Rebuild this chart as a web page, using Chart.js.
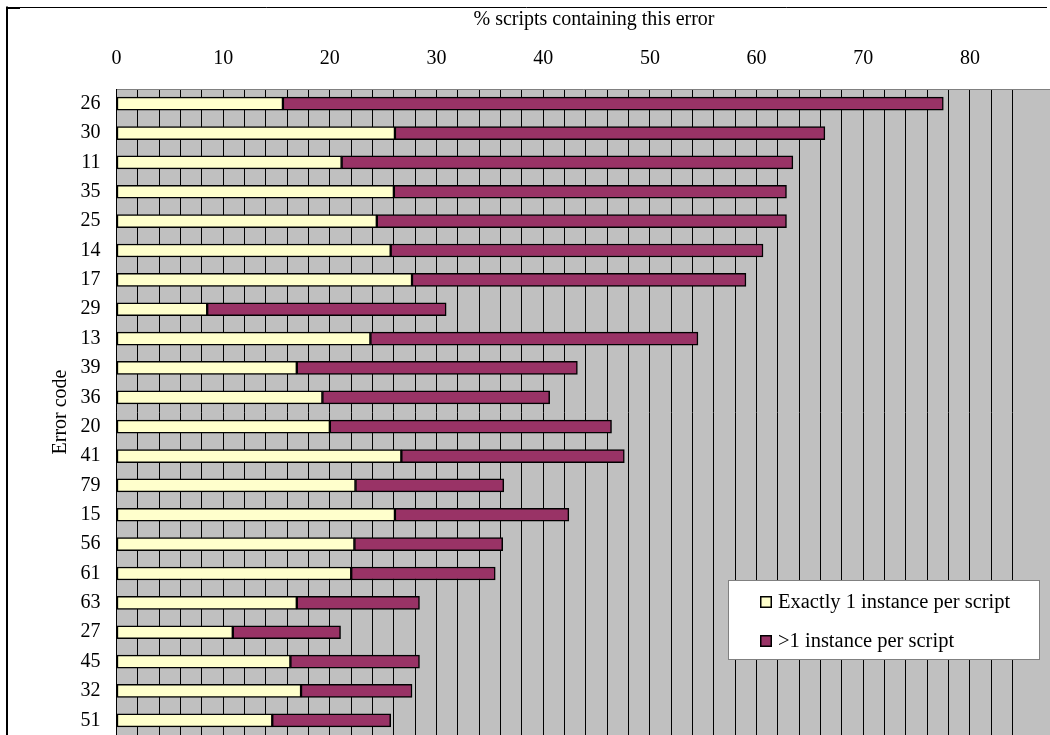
<!DOCTYPE html>
<html>
<head>
<meta charset="utf-8">
<script src="https://cdn.jsdelivr.net/npm/chart.js@4.4.1/dist/chart.umd.min.js"></script>
<style>
  html, body { margin: 0; padding: 0; background: #fff; }
  canvas { display: block; }
</style>
</head>
<body>
<canvas id="chart" width="1050" height="735"></canvas>
<script>
// Error codes, most frequent first (top to bottom)
const errorCodes = ['26','30','11','35','25','14','17','29','13','39','36','20','41','79','15','56','61','63','27','45','32','51'];

// % of scripts with exactly one instance of the error
const exactlyOne = [15.6, 26.1, 21.1, 26.0, 24.4, 25.7, 27.7, 8.5, 23.8, 16.9, 19.3, 20.0, 26.7, 22.4, 26.1, 22.3, 22.0, 16.9, 10.9, 16.3, 17.3, 14.6];

// % of scripts with more than one instance of the error
const moreThanOne = [61.9, 40.3, 42.3, 36.8, 38.4, 34.9, 31.3, 22.4, 30.7, 26.3, 21.3, 26.4, 20.9, 13.9, 16.3, 13.9, 13.5, 11.5, 10.1, 12.1, 10.4, 11.1];

// Labelled values on the percentage axis
const percentTickLabels = [0, 10, 20, 30, 40, 50, 60, 70, 80];

const seriesNames = ['Exactly 1 instance per script', '>1 instance per script'];
const seriesColors = ['#ffffcc', '#993366'];

const SERIF = '"Liberation Serif", "Times New Roman", Times, serif';
const FONT_SIZE = 20;
const PLOT_LEFT = 116.5;
const PLOT_TOP = 89;

// Page background, grey plot area, outer frame, axis title and legend
const decorations = {
  id: 'decorations',
  beforeDraw(chart) {
    const { ctx, chartArea: a } = chart;
    ctx.save();
    ctx.fillStyle = '#ffffff';
    ctx.fillRect(0, 0, chart.width, chart.height);
    ctx.fillStyle = '#c0c0c0';
    ctx.fillRect(a.left, a.top, a.right - a.left, a.bottom - a.top);

    ctx.strokeStyle = '#000';
    ctx.lineWidth = 1;
    ctx.beginPath();
    ctx.moveTo(6, 7.5);
    ctx.lineTo(1047, 7.5);
    ctx.stroke();
    ctx.lineWidth = 2;
    ctx.beginPath();
    ctx.moveTo(7, 6.5);
    ctx.lineTo(7, chart.height);
    ctx.moveTo(6, 8);
    ctx.lineTo(20, 8);
    ctx.stroke();
    ctx.restore();
  },
  afterDraw(chart) {
    const { ctx } = chart;
    ctx.save();
    // axis title above the percentage scale
    ctx.fillStyle = '#000';
    ctx.font = FONT_SIZE + 'px ' + SERIF;
    ctx.textAlign = 'center';
    ctx.textBaseline = 'middle';
    ctx.fillText('% scripts containing this error', 594, 20);

    // legend box
    const bx = 728, by = 580, bw = 312, bh = 80;
    ctx.fillStyle = '#ffffff';
    ctx.fillRect(bx, by, bw, bh);
    ctx.strokeStyle = '#808080';
    ctx.lineWidth = 1;
    ctx.strokeRect(bx + 0.5, by + 0.5, bw - 1, bh - 1);

    ctx.font = '20.5px ' + SERIF;
    ctx.textAlign = 'left';
    ctx.textBaseline = 'alphabetic';
    chart.data.datasets.forEach((ds, i) => {
      const sy = 596 + i * 39;
      ctx.fillStyle = ds.backgroundColor;
      ctx.fillRect(760, sy, 12, 12);
      ctx.strokeStyle = '#000';
      ctx.lineWidth = 1.5;
      ctx.strokeRect(760.75, sy + 0.75, 10.5, 10.5);
      ctx.fillStyle = '#000';
      ctx.fillText(ds.label, 778, sy + 12);
    });
    ctx.restore();
  }
};

new Chart(document.getElementById('chart'), {
  type: 'bar',
  data: {
    labels: errorCodes,
    datasets: [
      {
        label: seriesNames[0],
        data: exactlyOne,
        backgroundColor: seriesColors[0],
        borderColor: '#000',
        borderWidth: 1.5,
        borderSkipped: false,
        barThickness: 13
      },
      {
        label: seriesNames[1],
        data: moreThanOne,
        backgroundColor: seriesColors[1],
        borderColor: '#000',
        borderWidth: 1.5,
        borderSkipped: false,
        barThickness: 13
      }
    ]
  },
  options: {
    indexAxis: 'y',
    responsive: false,
    animation: false,
    devicePixelRatio: 1,
    layout: { padding: 0 },
    plugins: {
      legend: { display: false },
      tooltip: { enabled: false }
    },
    scales: {
      x: {
        type: 'linear',
        position: 'top',
        stacked: true,
        min: 0,
        max: 87.5,
        afterBuildTicks(scale) {
          scale.ticks = scale.ticks.filter(t => Math.abs(t.value % 2) < 1e-6);
        },
        afterFit(scale) {
          scale.height = PLOT_TOP;
          scale.paddingLeft = 0;
          scale.paddingRight = 0;
        },
        ticks: {
          stepSize: 2,
          autoSkip: false,
          maxRotation: 0,
          padding: 18,
          color: '#000',
          font: { family: SERIF, size: FONT_SIZE },
          callback: v => (percentTickLabels.includes(v) ? String(v) : '')
        },
        grid: {
          color: '#000',
          lineWidth: 1,
          drawTicks: false
        },
        border: { display: true, color: '#808080', width: 1 },
        title: { display: false }
      },
      y: {
        type: 'category',
        stacked: true,
        offset: true,
        afterFit(scale) {
          scale.width = PLOT_LEFT;
          scale.paddingTop = 0;
          scale.paddingBottom = 0;
        },
        ticks: {
          padding: 16,
          color: '#000',
          font: { family: SERIF, size: FONT_SIZE }
        },
        grid: { display: false, drawTicks: false },
        border: { display: true, color: '#000', width: 1 },
        title: {
          display: true,
          text: 'Error code',
          color: '#000',
          font: { family: SERIF, size: FONT_SIZE },
          padding: { top: 49, bottom: 0 }
        }
      }
    }
  },
  plugins: [decorations]
});
</script>
</body>
</html>
